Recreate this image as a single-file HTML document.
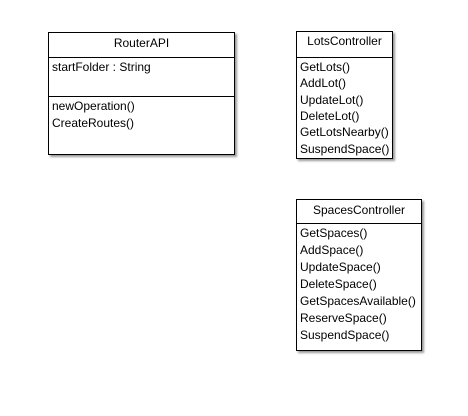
<!DOCTYPE html>
<html><head><style>
body{margin:0;width:468px;height:416px;background:#fff;position:relative;font-family:"Liberation Sans",sans-serif;font-size:12px;color:#000;overflow:hidden}
.b{position:absolute;border:1px solid #000;background:#fff;box-shadow:2px 2px 2px #999;box-sizing:border-box}
.h{position:absolute;left:0;right:0;border-top:1px solid #000}
.t{position:absolute;white-space:nowrap;line-height:14px}
</style></head><body>
<div class="b" style="left:48px;top:32px;width:187px;height:123px">
 <div class="t" style="left:0;right:0;text-align:center;top:3px">RouterAPI</div>
 <div class="h" style="top:24px"></div>
 <div class="t" style="left:3px;top:27px">startFolder : String</div>
 <div class="h" style="top:63px"></div>
 <div class="t" style="left:3px;top:66px">newOperation()</div>
 <div class="t" style="left:3px;top:83px">CreateRoutes()</div>
</div>
<div class="b" style="left:296px;top:31px;width:97px;height:128px">
 <div class="t" style="left:0;right:0;text-align:center;top:2px">LotsController</div>
 <div class="h" style="top:25px"></div>
 <div class="t" style="left:3px;top:28px">GetLots()</div>
 <div class="t" style="left:3px;top:44px">AddLot()</div>
 <div class="t" style="left:3px;top:61px">UpdateLot()</div>
 <div class="t" style="left:3px;top:77px">DeleteLot()</div>
 <div class="t" style="left:3px;top:93px">GetLotsNearby()</div>
 <div class="t" style="left:3px;top:110px">SuspendSpace()</div>
</div>
<div class="b" style="left:296px;top:199px;width:126px;height:152px">
 <div class="t" style="left:0;right:0;text-align:center;top:3px">SpacesController</div>
 <div class="h" style="top:23px"></div>
 <div class="t" style="left:3px;top:26px">GetSpaces()</div>
 <div class="t" style="left:3px;top:43px">AddSpace()</div>
 <div class="t" style="left:3px;top:60px">UpdateSpace()</div>
 <div class="t" style="left:3px;top:77px">DeleteSpace()</div>
 <div class="t" style="left:3px;top:94px">GetSpacesAvailable()</div>
 <div class="t" style="left:3px;top:111px">ReserveSpace()</div>
 <div class="t" style="left:3px;top:128px">SuspendSpace()</div>
</div>
</body></html>
